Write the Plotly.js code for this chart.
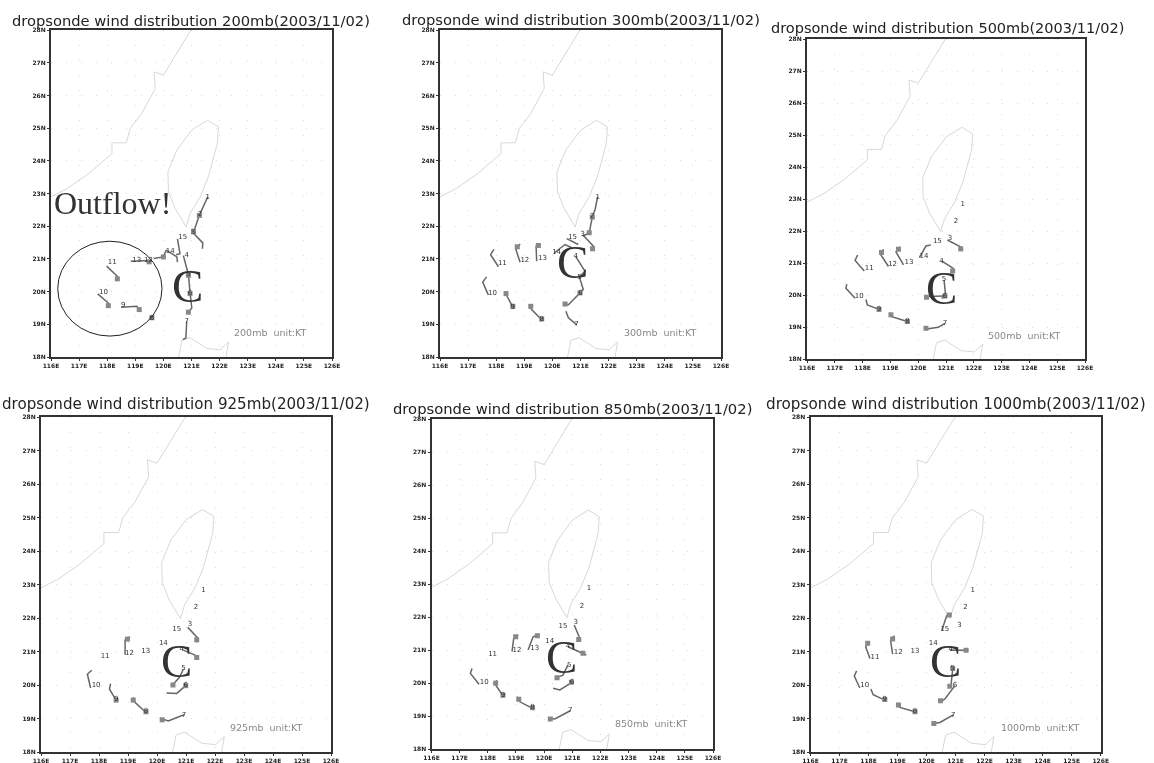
<!DOCTYPE html>
<html><head><meta charset="utf-8">
<script src="https://cdn.plot.ly/plotly-3.0.1.min.js"></script>
<style>html,body{margin:0;padding:0;background:#fff}#g{width:1154px;height:763px;filter:blur(0.35px)}</style>
</head><body><div id="g"></div>
<script>
const N=null;
// Map outlines (lon/lat)
const chinaLon=[116,116.57,117.34,118.17,118.17,118.68,118.82,119.23,119.71,119.67,120.0,120.98];
const chinaLat=[22.9,23.15,23.61,24.22,24.55,24.55,24.99,25.45,26.21,26.72,26.62,28];
const taiwanLon=[120.81,120.42,120.18,120.16,120.48,121.01,121.57,121.96,121.92,121.6,121.31,120.95,120.81];
const taiwanLat=[21.98,22.54,23.05,23.66,24.33,24.94,25.24,25.04,24.53,23.51,22.9,22.39,21.98];
const luzonLon=[120.54,120.66,120.95,121.19,121.55,122.02,122.32,122.23];
const luzonLat=[18,18.51,18.59,18.46,18.26,18.22,18.46,18];
const levels=['200mb','300mb','500mb','925mb','850mb','1000mb'];
const lonTicks=[116,117,118,119,120,121,122,123,124,125,126];
const lonLabels=['116E','117E','118E','119E','120E','121E','122E','123E','124E','125E','126E'];
const latTicks=[18,19,20,21,22,23,24,25,26,27,28];
const latLabels=['18N','19N','20N','21N','22N','23N','24N','25N','26N','27N','28N'];

// Wind barbs per panel (lon/lat polylines, null separated)
const barb200Lon=[121.58,121.28,N,121.28,121.09,N,121.03,121.40,121.39,N,120.50,120.59,120.45,N,120.10,120.48,120.50,N,118.84,119.47,119.53,N,119.65,120.0,120.10,N,120.71,120.89,N,120.89,120.95,N,120.95,121.01,120.89,N,120.83,120.80,120.69,N,118.49,119.05,119.17,N,117.66,118.04,118.04,N,117.98,118.36,118.36];
const barb200Lat=[22.90,22.34,N,22.34,21.85,N,21.82,21.49,21.31,N,21.61,21.16,21.13,N,21.27,21.06,20.90,N,20.93,20.95,20.86,N,21.01,21.06,21.27,N,21.10,20.52,N,20.52,19.96,N,19.96,19.50,19.37,N,19.09,18.58,18.53,N,19.52,19.55,19.43,N,19.93,19.65,19.50,N,20.78,20.47,20.34];
const barb300Lon=[121.61,121.52,121.42,N,121.42,121.31,121.08,N,121.08,121.46,121.43,N,120.51,120.92,N,120.06,120.45,120.69,N,120.83,121.16,120.96,N,120.96,121.10,120.57,120.41,N,120.86,120.57,120.48,N,119.62,119.26,119.18,N,118.59,118.37,118.31,N,117.72,117.52,117.66,N,118.08,117.80,117.92,N,118.85,118.70,118.85,N,119.44,119.42,119.58];
const barb300Lat=[22.90,22.51,22.28,N,22.28,21.80,21.69,N,21.74,21.39,21.25,N,21.62,21.44,N,21.18,21.44,21.34,N,21.08,20.62,20.45,N,20.45,20.06,19.60,19.63,N,18.99,19.20,19.40,N,19.14,19.45,19.60,N,19.53,19.86,19.98,N,19.90,20.29,20.45,N,20.76,21.13,21.29,N,20.90,21.29,21.46,N,20.93,21.39,21.46];
const barb500Lon=[121.05,121.56,N,120.04,120.28,120.45,N,120.84,121.26,121.24,N,120.93,120.99,120.84,N,120.30,120.96,N,120.96,120.72,120.24,N,119.61,119.05,118.99,N,118.59,118.17,118.12,N,117.73,117.40,117.43,N,118.06,117.73,117.82,N,118.93,118.66,118.75,N,119.47,119.20,119.35];
const barb500Lat=[21.72,21.49,N,21.17,21.53,21.56,N,21.07,20.83,20.68,N,20.47,19.95,19.90,N,19.95,19.97,N,19.11,18.99,18.93,N,19.17,19.32,19.45,N,19.55,19.69,19.86,N,19.90,20.21,20.34,N,20.75,21.08,21.25,N,20.89,21.25,21.43,N,20.94,21.35,21.51];
const barb925Lon=[121.06,121.39,121.37,N,120.91,121.37,N,120.91,120.77,120.51,N,120.99,120.68,120.33,N,120.93,120.39,120.10,N,119.62,119.24,119.18,N,118.59,118.36,118.40,N,117.71,117.60,117.75,N,118.90,118.90,119.07];
const barb925Lat=[21.72,21.42,21.27,N,21.04,20.87,N,20.47,20.22,19.98,N,19.98,19.75,19.76,N,19.11,18.93,19.01,N,19.18,19.48,19.63,N,19.55,19.88,20.04,N,19.91,20.32,20.44,N,20.90,21.34,21.44];
const barb850Lon=[121.07,121.27,N,120.85,121.50,N,120.85,120.67,120.38,N,120.99,120.56,120.32,N,120.93,120.38,120.14,N,119.59,119.14,119.04,N,118.54,118.28,118.31,N,117.69,117.38,117.44,N,118.86,118.92,119.08,N,119.43,119.61,119.85];
const barb850Lat=[21.76,21.35,N,21.10,20.85,N,20.55,20.24,20.14,N,20.02,19.79,19.84,N,19.16,18.91,18.93,N,19.23,19.43,19.59,N,19.61,19.94,20.09,N,19.96,20.29,20.44,N,20.95,21.35,21.45,N,21.00,21.40,21.48];
const barb1000Lon=[120.52,120.69,120.86,N,120.80,121.44,N,120.90,120.84,120.75,N,120.98,120.63,120.46,N,120.92,120.46,120.23,N,119.60,119.08,118.99,N,118.56,118.16,118.08,N,117.70,117.51,117.59,N,118.05,117.90,118.02,N,118.83,118.76,118.89];
const barb1000Lat=[21.62,22.06,22.13,N,21.04,21.04,N,20.47,19.98,19.93,N,19.98,19.58,19.48,N,19.11,18.88,18.85,N,19.20,19.33,19.45,N,19.55,19.71,19.88,N,19.91,20.27,20.42,N,20.79,21.14,21.29,N,20.92,21.32,21.47];

// Barb flags (wind pennants)
const flag200Lon=[121.28,121.07,119.49,120.0,120.89,120.95,120.89,119.59,119.14,118.04,118.36];
const flag200Lat=[22.33,21.83,20.91,21.06,20.50,19.94,19.37,19.20,19.45,19.57,20.39];
const flag300Lon=[121.42,121.31,121.43,120.98,120.45,119.62,119.23,118.59,118.35,118.75,119.50];
const flag300Lat=[22.28,21.80,21.31,19.96,19.62,19.16,19.55,19.55,19.94,21.37,21.41];
const flag500Lon=[121.53,120.30,120.96,121.24,120.28,119.61,119.02,118.59,119.29,118.68];
const flag500Lat=[21.44,19.93,19.97,20.75,18.96,19.17,19.38,19.55,21.43,21.33];
const flag925Lon=[121.37,121.37,120.55,120.99,120.18,119.62,118.59,118.98,119.18];
const flag925Lat=[20.82,21.35,20.00,19.98,18.96,19.20,19.55,21.37,19.55];
const flag850Lon=[121.38,121.23,120.46,120.97,120.22,119.59,119.10,118.54,118.28,118.99,119.76];
const flag850Lat=[20.90,21.32,20.16,20.02,18.91,19.25,19.51,19.63,19.99,21.40,21.43];
const flag1000Lon=[120.78,121.36,120.90,120.80,120.48,120.25,119.60,119.03,118.56,117.97,118.83];
const flag1000Lat=[22.09,21.04,20.49,19.96,19.53,18.85,19.20,19.40,19.57,21.25,21.37];

// Sonde number labels
const sondeNames=['1','2','3','4','5','6','7','8','9','10','11','12','13','14','15'];
const label200Lon=[121.58,121.30,121.05,120.83,120.89,120.95,120.83,119.59,118.57,117.87,118.18,119.47,119.05,120.24,120.69];
const label200Lat=[22.90,22.36,21.82,21.10,20.52,19.96,19.09,19.20,19.57,19.97,20.89,20.95,20.95,21.23,21.67];
const label300Lon=[121.61,121.42,121.08,120.83,120.96,121.00,120.86,119.62,118.59,117.87,118.22,119.02,119.65,120.15,120.72];
const label300Lat=[22.90,22.30,21.74,21.08,20.45,19.96,18.99,19.14,19.53,19.96,20.86,20.96,21.01,21.20,21.67];
const label500Lon=[121.60,121.36,121.14,120.84,120.93,120.96,120.96,119.61,118.59,117.88,118.24,119.08,119.67,120.21,120.69];
const label500Lat=[22.84,22.31,21.77,21.07,20.49,19.97,19.11,19.17,19.55,19.97,20.83,20.95,21.01,21.22,21.67];
const label925Lon=[121.60,121.34,121.14,120.85,120.91,120.99,120.93,119.62,118.59,117.90,118.21,119.05,119.61,120.22,120.68];
const label925Lat=[22.84,22.31,21.80,21.07,20.50,19.98,19.11,19.21,19.58,19.98,20.85,20.96,21.02,21.24,21.67];
const label850Lon=[121.59,121.35,121.12,120.85,120.89,120.99,120.93,119.59,118.54,117.87,118.17,119.04,119.67,120.20,120.67];
const label850Lat=[22.87,22.34,21.84,21.12,20.55,20.02,19.16,19.26,19.63,20.02,20.88,21.00,21.05,21.28,21.71];
const label1000Lon=[121.59,121.34,121.13,120.83,120.90,120.98,120.92,119.60,118.56,117.87,118.22,119.02,119.60,120.23,120.63];
const label1000Lat=[22.84,22.31,21.79,21.06,20.49,19.98,19.11,19.21,19.57,19.98,20.84,20.97,21.02,21.24,21.67];

const barbLon=[barb200Lon,barb300Lon,barb500Lon,barb925Lon,barb850Lon,barb1000Lon];
const barbLat=[barb200Lat,barb300Lat,barb500Lat,barb925Lat,barb850Lat,barb1000Lat];
const flagLon=[flag200Lon,flag300Lon,flag500Lon,flag925Lon,flag850Lon,flag1000Lon];
const flagLat=[flag200Lat,flag300Lat,flag500Lat,flag925Lat,flag850Lat,flag1000Lat];
const labelLon=[label200Lon,label300Lon,label500Lon,label925Lon,label850Lon,label1000Lon];
const labelLat=[label200Lat,label300Lat,label500Lat,label925Lat,label850Lat,label1000Lat];

// Layout geometry in page pixels
const W=1154,H=763;
const frames=[[51,332,30,357],[440,721,30,357],[807,1085,39,359],[41,331,417,752],[431.5,713,419,749],[810.5,1100.7,417,752]];
const titlePos=[[12,370,20],[402,760,19],[772,1123,28],[2,370,404],[393,752,408],[767,1144,404]];
const titleSize=[14.7,14.7,14.5,15.1,14.75,15.2];
const unitPos=[[232,333],[622,333],[986,335],[228,727],[613,723],[999,727]];
const cPos=[[187,286],[572,262],[941,288],[176,661],[561,657],[945,661]];
const px=x=>x/W, py=y=>1-y/H;

const traces=[],annotations=[],shapes=[];
const layout={width:W,height:H,margin:{l:0,r:0,t:0,b:0},paper_bgcolor:'#fff',plot_bgcolor:'#fff',showlegend:false,annotations,shapes};
frames.forEach((f,i)=>{
  const n=i===0?'':String(i+1), xa='x'+n, ya='y'+n;
  layout['xaxis'+n]={domain:[px(f[0]),px(f[1])],range:[116,126],anchor:ya,tickmode:'array',tickvals:lonTicks,ticktext:lonLabels,
    ticks:'outside',ticklen:2,tickwidth:1,tickcolor:'#333',tickfont:{family:'DejaVu Sans',size:6,color:'#222',weight:700},tickangle:0,
    showline:true,mirror:true,linecolor:'#333',linewidth:2,showgrid:true,gridcolor:'#ddd',griddash:'1px,14px',gridwidth:1,zeroline:false,automargin:false};
  layout['yaxis'+n]={domain:[py(f[3]),py(f[2])],range:[18,28],anchor:xa,tickmode:'array',tickvals:latTicks,ticktext:latLabels,
    ticks:'outside',ticklen:2,tickwidth:1,tickcolor:'#333',tickfont:{family:'DejaVu Sans',size:6,color:'#222',weight:700},
    showline:true,mirror:true,linecolor:'#333',linewidth:2,showgrid:true,gridcolor:'#ddd',griddash:'1px,14px',gridwidth:1,zeroline:false,automargin:false};
  [[chinaLon,chinaLat],[taiwanLon,taiwanLat],[luzonLon,luzonLat]].forEach(c=>{
    traces.push({type:'scatter',mode:'lines',x:c[0],y:c[1],xaxis:xa,yaxis:ya,line:{color:'#d8d8d8',width:1},hoverinfo:'skip'});
  });
  traces.push({type:'scatter',mode:'lines',x:barbLon[i],y:barbLat[i],xaxis:xa,yaxis:ya,line:{color:'#666',width:1.5},connectgaps:false,hoverinfo:'skip'});
  traces.push({type:'scatter',mode:'markers',x:flagLon[i],y:flagLat[i],xaxis:xa,yaxis:ya,marker:{symbol:'square',size:5,color:'#888'},hoverinfo:'skip'});
  traces.push({type:'scatter',mode:'text',x:labelLon[i],y:labelLat[i],text:sondeNames,xaxis:xa,yaxis:ya,textfont:{family:'DejaVu Sans',size:7,color:'#333'},hoverinfo:'skip'});
  const t=titlePos[i];
  annotations.push({xref:'paper',yref:'paper',x:px((t[0]+t[1])/2),y:py(t[2]),xanchor:'center',yanchor:'middle',showarrow:false,
    text:'dropsonde wind distribution '+levels[i]+'(2003/11/02)',font:{family:'DejaVu Sans',size:titleSize[i],color:'#222'}});
  annotations.push({xref:'paper',yref:'paper',x:px(unitPos[i][0]),y:py(unitPos[i][1]),xanchor:'left',yanchor:'middle',showarrow:false,
    text:levels[i]+'&nbsp; unit:KT',font:{family:'DejaVu Sans',size:9.5,color:'#888'}});
  annotations.push({xref:'paper',yref:'paper',x:px(cPos[i][0]),y:py(cPos[i][1]),xanchor:'center',yanchor:'middle',showarrow:false,
    text:'C',font:{family:'Liberation Serif',size:47,color:'#333'}});
});
annotations.push({xref:'paper',yref:'paper',x:px(52),y:py(203),xanchor:'left',yanchor:'middle',showarrow:false,
  text:'Outflow!',font:{family:'Liberation Serif',size:32,color:'#333'}});
shapes.push({type:'circle',xref:'x',yref:'y',x0:116.24,x1:119.95,y0:18.64,y1:21.54,line:{color:'#222',width:1}});
Plotly.newPlot('g',traces,layout,{displayModeBar:false,staticPlot:true});
</script></body></html>
